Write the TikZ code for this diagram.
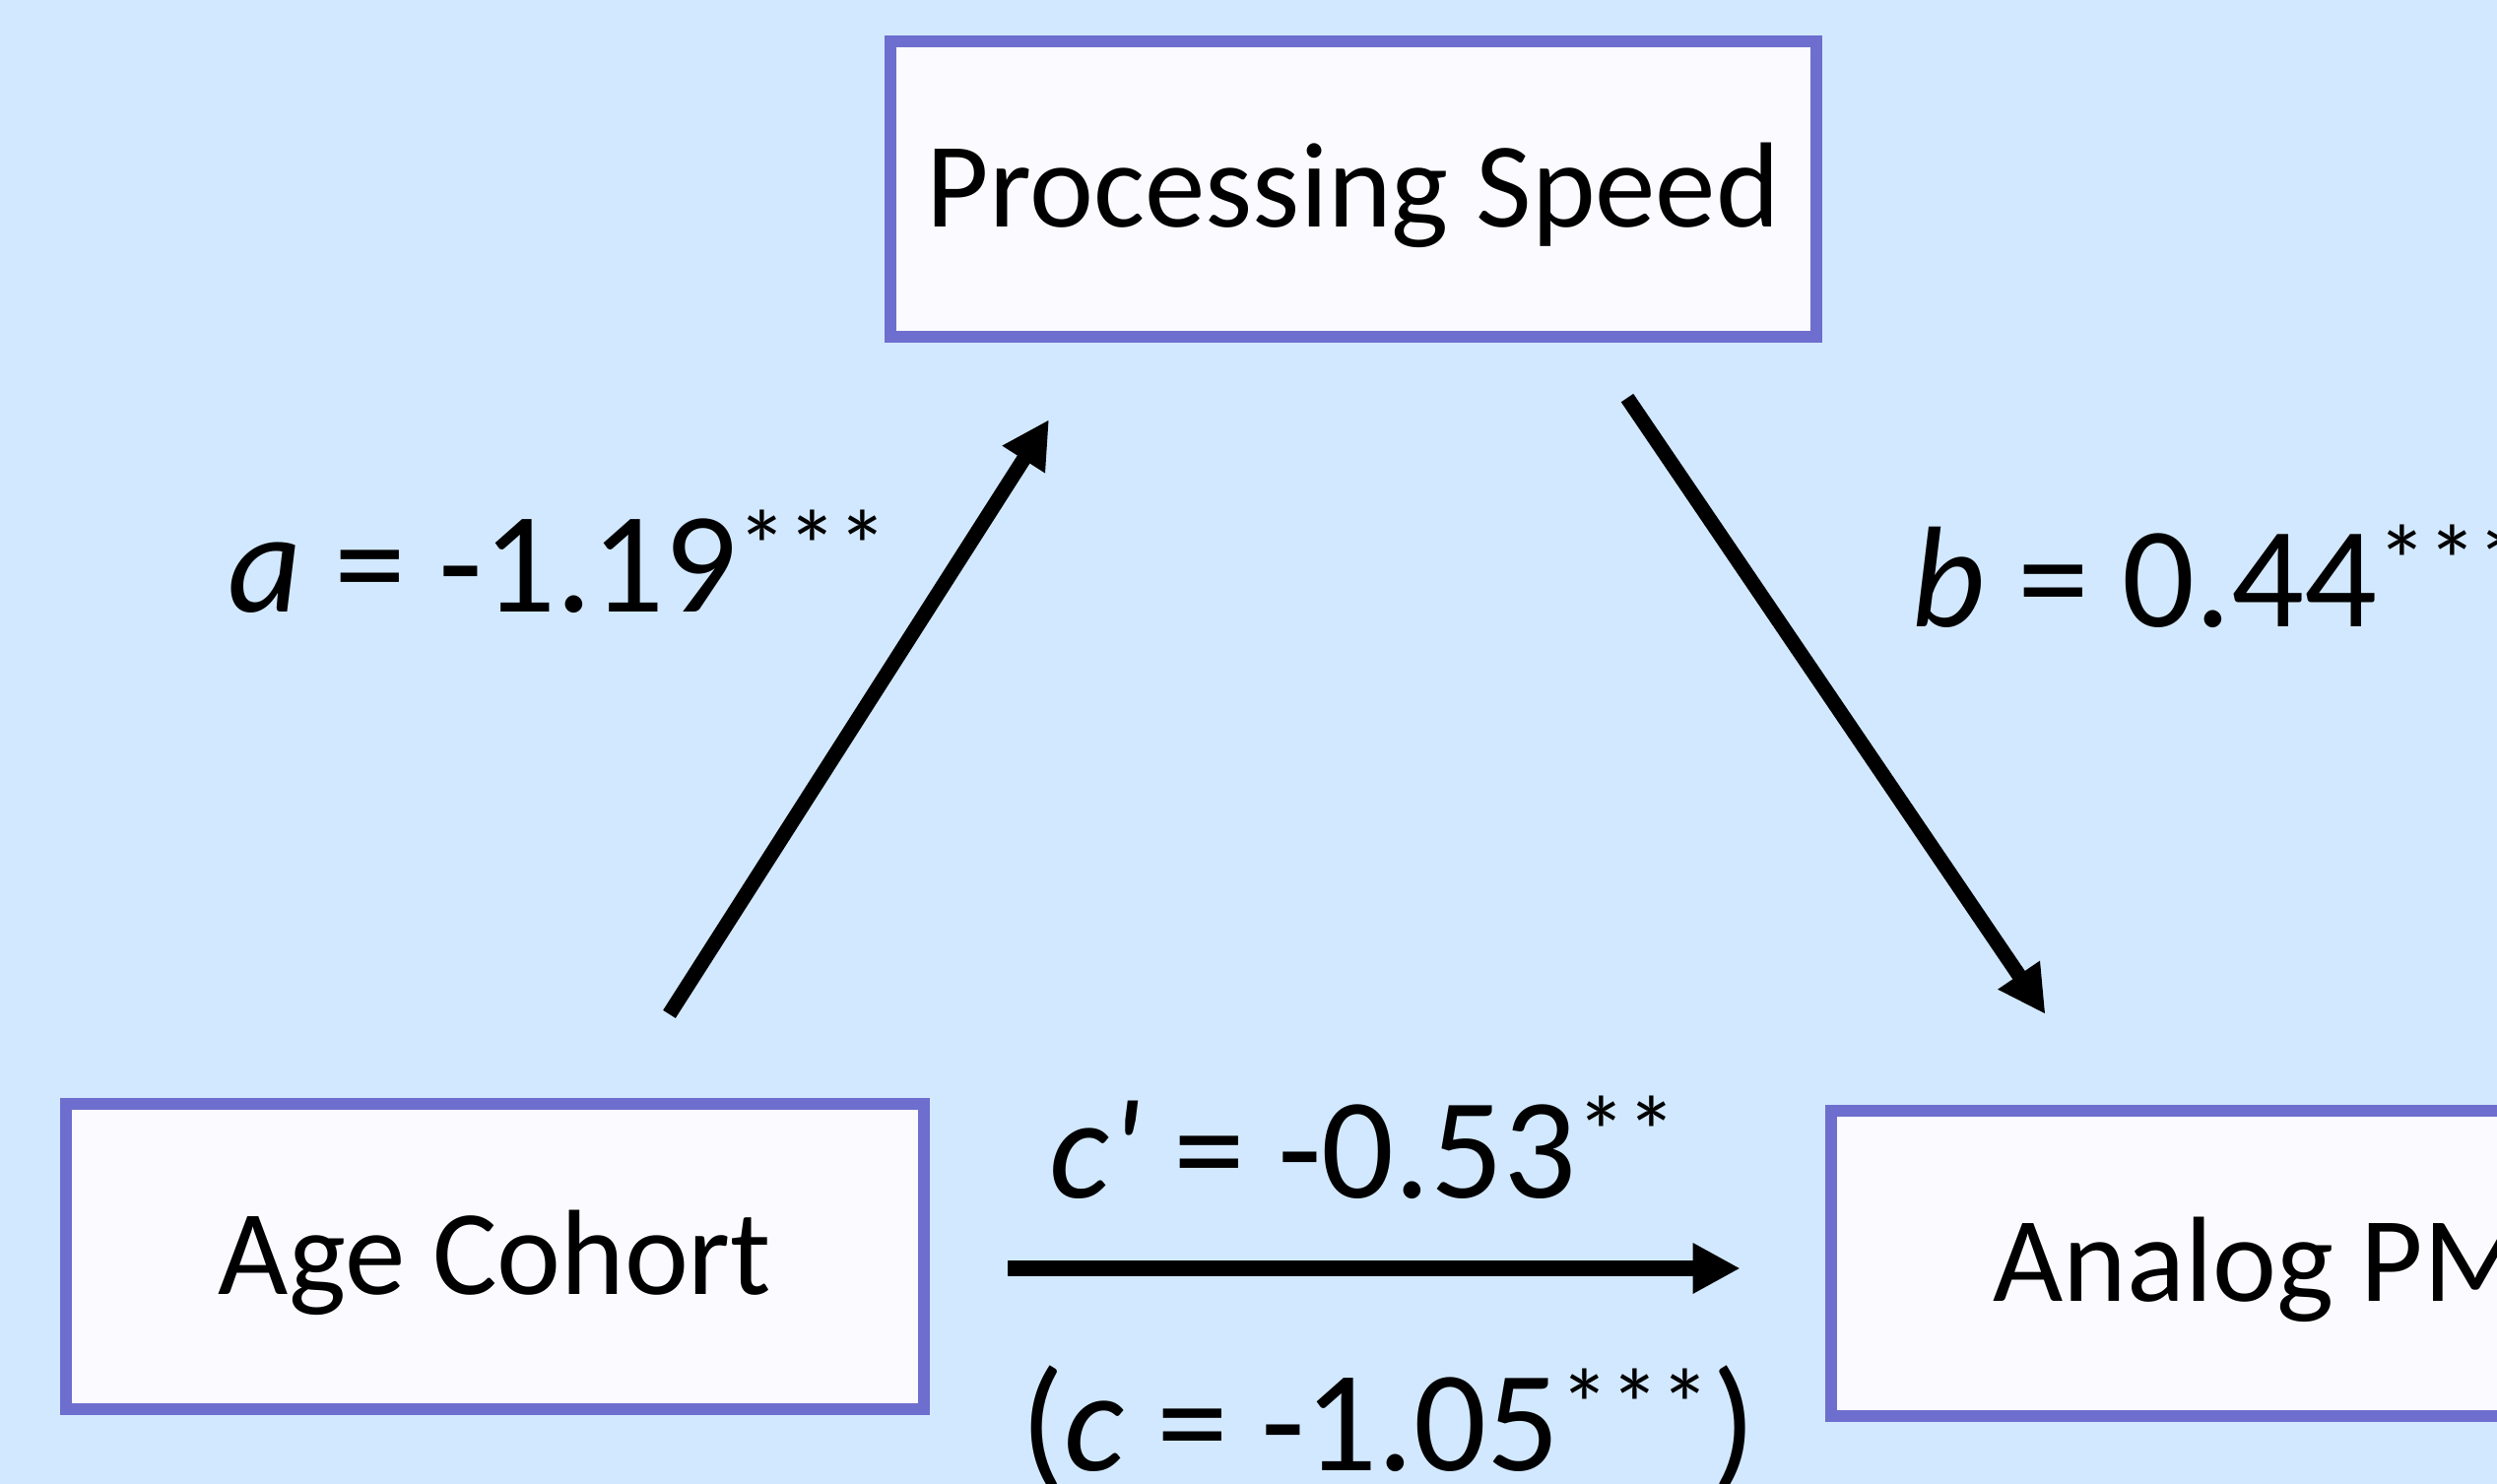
\documentclass[tikz,border=0pt]{standalone}
\usepackage{fontspec}
\setmainfont{Carlito}
\usetikzlibrary{arrows.meta, calc}

\definecolor{bgblue}{RGB}{210,232,254}
\definecolor{boxline}{RGB}{110,110,206}
\definecolor{boxfill}{RGB}{250,250,255}

\begin{document}
\begin{tikzpicture}[
    x=0.01cm, y=-0.01cm,
    var/.style={draw=boxline, fill=boxfill, line width=0.12cm,
                minimum height=3.1cm, text height=22pt, text depth=0pt,
                font=\fontsize{35}{40}\selectfont},
    coef/.style={anchor=base west, inner sep=0pt,
                 font=\fontsize{41.5}{48}\selectfont},
    effect/.style={line width=0.15cm,
                   -{Triangle[length=0.48cm, width=0.48cm]}}
  ]
    % background and page size
    \fill[bgblue] (0,0) rectangle (2535,1507);
    \useasboundingbox (0,0) rectangle (2535,1507);
    \clip (0,0) rectangle (2535,1507);

    % variables
    \node[var, minimum width=9.4cm, minimum height=3.0cm] (speed) at (1374,192) {Processing Speed};
    \node[var, minimum width=8.71cm] (age) at (502.5,1276) {Age Cohort};
    \node[var, minimum width=8.71cm] (pm) at (2294.5,1283) {Analog PM};

    % arrow ends
    \coordinate (a0) at ($(age.north)+(177,-85)$);
    \coordinate (a1) at ($(speed.south)+(-309,78)$);
    \coordinate (b0) at ($(speed.south)+(278,56)$);
    \coordinate (b1) at ($(pm.north)+(-218,-92)$);
    \coordinate (c0) at ($(age.east)+(79,12)$);
    \coordinate (c1) at ($(pm.west)+(-86,5)$);

    \draw[effect] (a0) -- (a1);
    \draw[effect] (b0) -- (b1);
    \draw[effect] (c0) -- (c1);

    % path coefficients
    \node[coef] (coef-a) at (231,622) {\textit{a} = -1.19\textsuperscript{***}};
    \node[coef] (coef-b) at (1940,637) {\textit{b} = 0.44\textsuperscript{***}};
    \node[coef] (coef-c1) at (1065,1217) {\textit{c\textquotesingle} = -0.53\textsuperscript{**}};
    \node[coef] (coef-c) at (1036,1494) {(\textit{c} = -1.05\textsuperscript{***})};
  \end{tikzpicture}
\end{document}
